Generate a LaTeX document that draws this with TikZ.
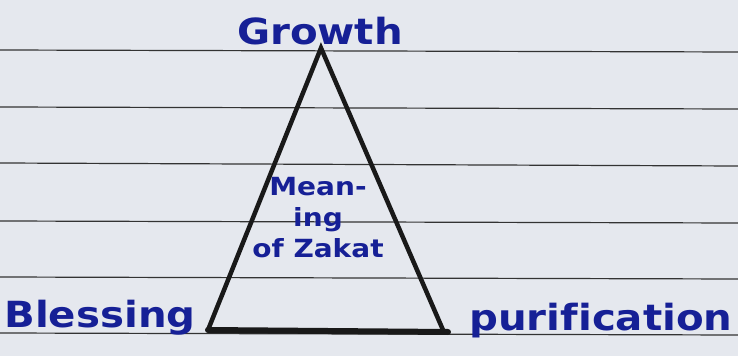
\documentclass[tikz,border=0pt]{standalone}
\usepackage{fontspec}
\newfontfamily\handfont[FakeStretch=1.12, Ligatures=NoCommon]{DejaVu Sans Bold}
\begin{document}
\begin{tikzpicture}[x=1pt, y=1pt,
    rule/.style={line width=1.2pt, black!80},
    side/.style={line width=4.5pt, black!90, line cap=round},
    word/.style={text=penblue, font=\handfont\fontsize{36}{40}\selectfont, inner sep=0pt}]
    % paper and ink colours
    \definecolor{paper}{RGB}{229, 232, 238}
    \definecolor{penblue}{RGB}{22, 32, 150}

    \fill[paper] (0,0) rectangle (738,356);
    \useasboundingbox (0,0) rectangle (738,356);

    % ruled lines of the notebook page
    \foreach \l/\r in {306/304, 249/247, 193/190, 135/133, 79/77, 23/21}
        \draw[rule] (0,\l) -- (738,\r);

    % triangle
    \coordinate (top) at (321,308);
    \coordinate (bl) at (208,26);
    \coordinate (br) at (443,26);
    \coordinate (be) at (448,24);
    \draw[side] (bl) -- (top) -- (br);
    \draw[side, line width=6pt] (bl) -- (be);

    % corner words
    \node[word, anchor=base] (growth) at (320,311) {Growth};
    \node[word, anchor=base] (blessing) at (100,29) {Blessing};
    \node[word, anchor=base] (purif) at (601,26) {purification};

    % middle text
    \node[word, font=\handfont\fontsize{25}{31}\selectfont, align=center] (zakat) at (318,138) {Mean-\\ing\\of Zakat};

\end{tikzpicture}
\end{document}
